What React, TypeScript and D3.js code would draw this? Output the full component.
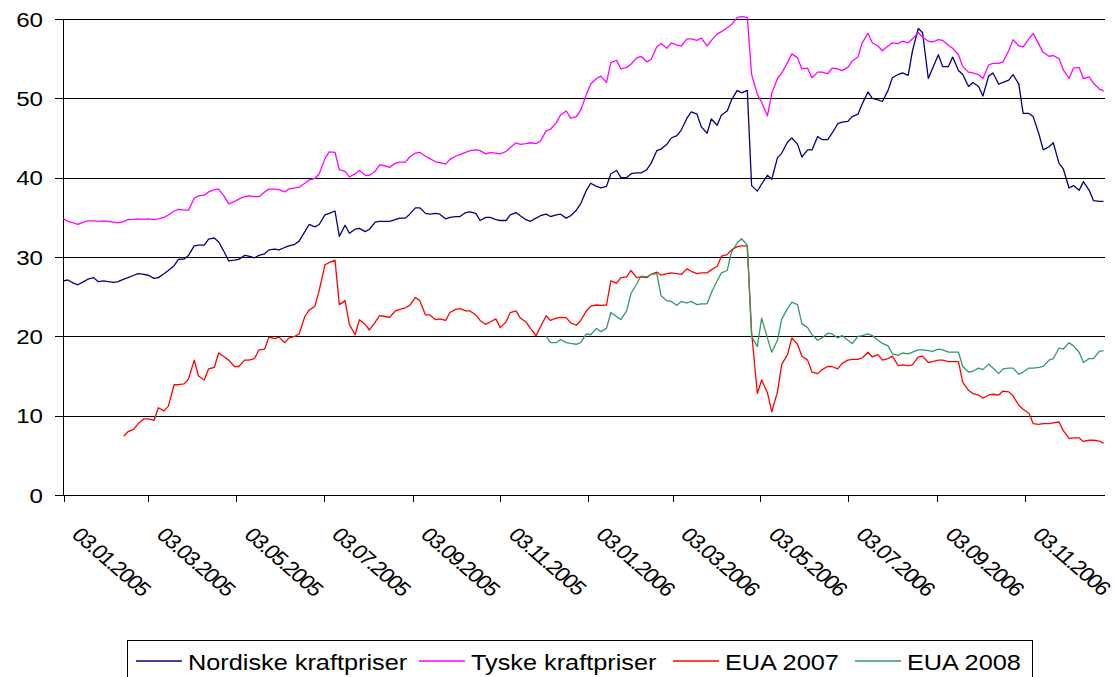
import React from "react";
import * as d3 from "d3";

// Twice-weekly observations (Monday, Thursday) starting Monday 03.01.2005
const firstWeek = "2005-01-03";
const nordiske = [
  27.0, 27.1, 26.7, 26.5, 26.9, 27.2, 27.4, 26.9, 27.0, 26.9,
  26.8, 26.9, 27.2, 27.4, 27.7, 27.9, 27.8, 27.7, 27.3, 27.4,
  27.9, 28.3, 28.9, 29.7, 29.75, 30.2, 31.4, 31.5, 31.5, 32.25,
  32.4, 31.9, 30.6, 29.5, 29.6, 29.7, 30.2, 30.1, 29.9, 30.2,
  30.4, 30.9, 31.0, 30.9, 31.2, 31.4, 31.6, 32.0, 33.2, 34.1,
  33.8, 34.1, 35.3, 35.5, 35.8, 32.6, 34.0, 33.0, 33.5, 33.6,
  33.2, 33.5, 34.4, 34.5, 34.5, 34.5, 34.7, 34.9, 34.9, 35.4,
  36.2, 36.2, 35.5, 35.4, 35.5, 35.4, 34.8, 35.0, 35.1, 35.1,
  35.6, 35.7, 35.5, 34.6, 35.0, 35.0, 34.7, 34.6, 34.6, 35.3,
  35.6, 35.2, 34.7, 34.5, 34.9, 35.2, 35.4, 35.1, 35.3, 35.4,
  34.9, 35.2, 35.9, 36.7, 38.4, 39.3, 38.9, 38.7, 38.9, 40.5,
  40.9, 40.0, 40.0, 40.5, 40.6, 40.6, 41.0, 41.8, 43.4, 43.6,
  44.2, 45.0, 45.3, 46.0, 47.5, 48.3, 48.0, 46.4, 45.6, 47.4,
  46.6, 47.9, 48.4, 49.8, 51.0, 50.7, 51.0, 39.0, 38.3, 39.2,
  40.3, 39.8, 42.5, 43.1, 44.5, 45.0, 44.2, 42.6, 43.5, 43.5,
  45.2, 44.8, 44.8, 45.6, 46.8, 47.0, 47.1, 47.7, 48.0, 49.3,
  50.8, 50.0, 49.8, 49.6, 51.0, 52.6, 53.0, 53.2, 52.9, 56.0,
  58.8, 58.3, 52.5, 53.8, 55.5, 54.0, 54.0, 55.2, 53.5, 53.0,
  51.5, 52.0, 51.5, 50.3, 52.8, 53.2, 51.8, 52.0, 52.3, 53.0,
  51.8, 48.1, 48.1, 47.7, 45.5, 43.5, 43.9, 44.4, 41.8, 41.1,
  38.7, 39.0, 38.4, 39.5, 38.4, 37.1, 37.0, 37.0];
const tyske = [
  34.8, 34.5, 34.3, 34.1, 34.4, 34.55, 34.55, 34.5, 34.55, 34.5,
  34.4, 34.3, 34.5, 34.7, 34.75, 34.8, 34.75, 34.8, 34.7, 34.8,
  35.0, 35.3, 35.8, 36.0, 35.9, 35.9, 37.4, 37.7, 37.8, 38.2,
  38.5, 38.55, 37.6, 36.7, 37.0, 37.3, 37.6, 37.7, 37.6, 37.6,
  38.2, 38.55, 38.55, 38.5, 38.2, 38.6, 38.7, 38.8, 39.3, 39.7,
  39.9, 40.5, 42.4, 43.25, 43.2, 41.0, 40.8, 40.1, 40.5, 40.9,
  40.3, 40.3, 40.8, 41.6, 41.5, 41.3, 41.8, 41.95, 41.95, 42.6,
  43.1, 43.2, 42.7, 42.4, 42.0, 41.9, 41.7, 42.3, 42.7, 42.9,
  43.2, 43.4, 43.5, 43.4, 43.0, 43.15, 43.1, 43.0, 43.3, 43.8,
  44.4, 44.2, 44.3, 44.4, 44.3, 44.6, 45.9, 46.1, 46.9, 47.9,
  48.4, 47.5, 47.7, 48.5, 50.5, 51.8, 52.5, 52.8, 52.0, 54.5,
  54.8, 53.7, 53.9, 54.3, 55.1, 55.3, 54.6, 54.9, 56.5, 56.9,
  56.3, 57.0, 56.7, 56.6, 57.5, 57.5, 57.3, 57.6, 56.6, 57.3,
  58.1, 58.4, 58.9, 59.3, 60.2, 60.3, 60.2, 53.0, 50.5, 49.5,
  47.8, 50.6, 52.5, 53.2, 54.5, 55.6, 55.1, 53.7, 53.8, 52.6,
  53.3, 53.3, 53.1, 53.8, 53.7, 53.5, 53.9, 54.7, 55.2, 57.0,
  58.2, 57.0, 56.6, 56.0, 56.6, 57.0, 56.9, 57.2, 57.0, 57.5,
  58.3, 57.7, 57.2, 57.1, 57.4, 57.3, 56.7, 56.3, 55.5, 54.0,
  53.3, 53.2, 53.0, 52.5, 54.2, 54.4, 54.4, 54.6, 56.0, 57.4,
  56.6, 56.5, 57.5, 58.2, 56.8, 55.8, 55.3, 55.4, 55.0, 53.6,
  52.5, 53.8, 53.9, 52.5, 52.7, 51.9, 51.2, 50.9];
const eua2007Start = "2005-02-14";
const eua2007 = [
  7.4, 8.0, 8.3, 9.0, 9.6, 9.6, 9.4, 11.0,
  10.6, 11.2, 13.9, 13.9, 14.0, 14.6, 17.0, 15.0, 14.5, 15.9,
  16.1, 17.9, 17.4, 17.0, 16.2, 16.2, 17.0, 17.0, 17.2, 18.3,
  18.4, 19.9, 19.7, 19.9, 19.2, 19.8, 20.0, 20.3, 22.5, 23.3,
  23.8, 25.8, 29.0, 29.3, 29.6, 24.0, 24.5, 21.5, 20.2, 22.1,
  21.5, 20.8, 21.8, 22.6, 22.5, 22.4, 23.2, 23.4, 23.6, 23.9,
  24.9, 24.5, 22.7, 22.7, 22.1, 22.2, 22.0, 23.0, 23.4, 23.5,
  23.2, 23.2, 22.7, 22.0, 21.5, 21.8, 22.2, 21.1, 21.8, 23.0,
  23.2, 22.3, 21.8, 21.0, 20.1, 21.2, 22.6, 22.0, 22.3, 22.4,
  22.35, 21.7, 21.4, 22.0, 23.2, 23.8, 23.95, 23.9, 23.95, 27.0,
  26.7, 27.4, 27.5, 28.3, 27.4, 27.5, 27.4, 27.8, 28.1, 27.7,
  27.9, 28.0, 27.9, 27.8, 28.5, 28.2, 27.9, 28.0, 28.0, 28.4,
  28.8, 30.1, 30.3, 30.9, 31.3, 31.4, 31.4, 20.5, 12.8, 14.5,
  12.9, 10.5, 13.0, 16.5, 17.7, 19.8, 19.0, 17.5, 17.0, 15.5,
  15.3, 15.8, 16.2, 16.2, 15.9, 16.6, 17.0, 17.1, 17.1, 17.3,
  18.0, 17.4, 17.7, 17.0, 17.2, 17.5, 16.3, 16.4, 16.3, 16.4,
  17.4, 17.5, 16.7, 16.8, 17.0, 17.0, 16.8, 16.8, 16.8, 14.2,
  13.2, 12.8, 12.6, 12.2, 12.6, 12.7, 12.6, 13.1, 13.0, 12.5,
  11.3, 10.8, 10.3, 9.0, 8.9, 9.0, 9.0, 9.1, 9.2, 8.1,
  7.1, 7.2, 7.2, 6.75, 6.9, 6.9, 6.8, 6.5];
const eua2008Start = "2005-12-05";
const eua2008 = [
  20.0, 19.2, 19.2, 19.6,
  19.2, 19.1, 19.0, 19.2, 20.3, 20.2, 21.0, 20.6, 21.0, 23.0,
  22.5, 22.1, 23.2, 25.4, 26.6, 27.6, 27.5, 27.8, 27.9, 25.1,
  24.5, 24.4, 23.9, 24.4, 24.2, 24.4, 24.0, 24.1, 24.1, 25.5,
  27.0, 28.0, 28.3, 30.6, 31.8, 32.3, 31.5, 20.0, 18.7, 22.3,
  19.8, 18.0, 19.5, 22.2, 23.5, 24.3, 24.0, 21.6, 21.1, 20.2,
  19.5, 19.8, 20.4, 20.3, 19.8, 20.1, 19.5, 19.1, 20.0, 20.1,
  20.3, 20.1, 19.5, 19.1, 18.8, 17.8, 17.6, 17.9, 17.8, 18.0,
  18.3, 18.3, 18.2, 18.1, 18.4, 18.3, 18.0, 18.0, 18.0, 16.2,
  15.5, 15.6, 16.0, 15.8, 16.5, 16.0, 15.3, 15.9, 16.0, 16.0,
  15.2, 15.5, 16.0, 16.0, 16.1, 16.2, 17.0, 17.2, 18.5, 18.4,
  19.2, 18.8, 18.0, 16.7, 17.2, 17.2, 18.1, 18.2];

const xTickLabels = ["03.01.2005", "03.03.2005", "03.05.2005", "03.07.2005", "03.09.2005", "03.11.2005",
  "03.01.2006", "03.03.2006", "03.05.2006", "03.07.2006", "03.09.2006", "03.11.2006"];
const yTicks = [0, 10, 20, 30, 40, 50, 60];
const axisStart = "2005-01-03";
const axisEnd = "2006-12-29";

const seriesNames = ["Nordiske kraftpriser", "Tyske kraftpriser", "EUA 2007", "EUA 2008"];
const seriesColors = ["#000080", "#FF00FF", "#FF0000", "#339966"];

const parseIso = d3.timeParse("%Y-%m-%d");
const parseTick = d3.timeParse("%d.%m.%Y");

// observations alternate Monday / Thursday
function toPoints(start: string, values: number[]) {
  const s = parseIso(start) as Date;
  return values.map((v, i) => ({ date: d3.timeDay.offset(s, Math.floor(i / 2) * 7 + (i % 2) * 3), value: v }));
}

const FONT = "'Liberation Sans', Arial, Helvetica, sans-serif";
const SX = 1.15;

export default function App() {
  const W = 1117, H = 677;
  const left = 63.5, right = 1105, top = 19, bottom = 495;
  const x = d3.scaleTime().domain([parseIso(axisStart) as Date, parseIso(axisEnd) as Date]).range([left, right]);
  const y = d3.scaleLinear().domain([0, 60]).range([bottom, top]);
  const line = d3.line<{ date: Date; value: number }>().x(d => x(d.date)).y(d => y(d.value));

  const series = [
    toPoints(firstWeek, nordiske),
    toPoints(firstWeek, tyske),
    toPoints(eua2007Start, eua2007),
    toPoints(eua2008Start, eua2008),
  ];
  const ticks = xTickLabels.map(t => parseTick(t) as Date);
  const legendX = [136, 419, 673, 855];

  return (
    <div style={{ position: "absolute", left: 0, top: 0 }}>
      <svg width={W} height={H} style={{ display: "block", background: "#fff" }} fontFamily={FONT}>
        {yTicks.map(v => (
          <g key={v}>
            <line x1={55} x2={right} y1={Math.round(y(v)) + 0.5} y2={Math.round(y(v)) + 0.5} stroke="#000" strokeWidth={1} />
            <text transform={`translate(43, ${y(v) + 7.5}) scale(${SX},1)`} textAnchor="end" fontSize={21} fill="#000">{v}</text>
          </g>
        ))}
        <line x1={63.5} x2={63.5} y1={top} y2={bottom} stroke="#000" strokeWidth={1} />
        {ticks.map((t, i) => (
          <g key={i}>
            <line x1={Math.round(x(t)) + 0.5} x2={Math.round(x(t)) + 0.5} y1={bottom} y2={bottom + 7} stroke="#000" strokeWidth={1} />
            <text transform={`translate(${x(t) + 7}, 536) scale(${SX},1) rotate(45)`} fontSize={20} letterSpacing={-1.4} fill="#000">{xTickLabels[i]}</text>
          </g>
        ))}
        {series.map((pts, i) => (
          <path key={i} d={line(pts) || ""} fill="none" stroke={seriesColors[i]} strokeWidth={1.3} strokeLinejoin="round" />
        ))}
        <rect x={127.5} y={640.5} width={905} height={50} fill="#fff" stroke="#000" strokeWidth={1} />
        {seriesNames.map((n, i) => (
          <g key={n}>
            <line x1={legendX[i]} x2={legendX[i] + 46} y1={661} y2={661} stroke={seriesColors[i]} strokeWidth={1.5} />
            <text transform={`translate(${legendX[i] + 52}, 669.5) scale(${SX},1)`} fontSize={22} fill="#000">{n}</text>
          </g>
        ))}
      </svg>
    </div>
  );
}
